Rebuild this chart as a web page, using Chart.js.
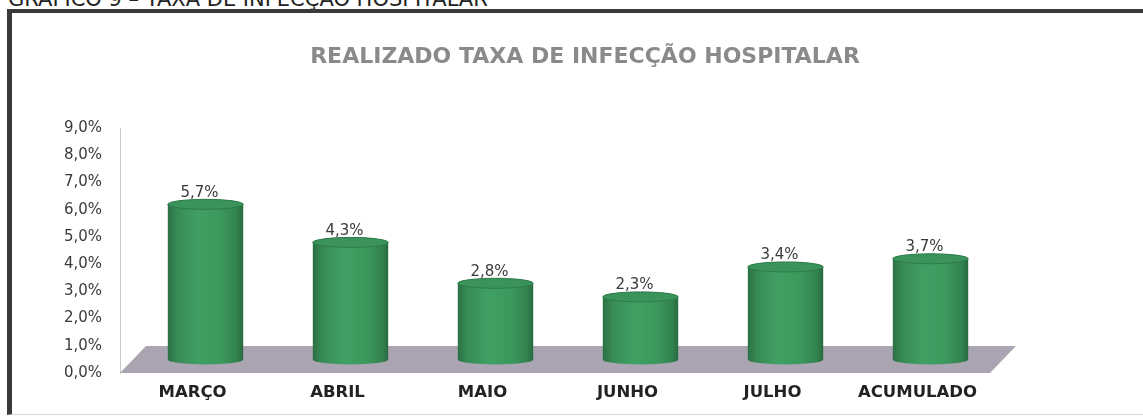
<!DOCTYPE html>
<html><head><meta charset="utf-8">
<script src="https://cdn.jsdelivr.net/npm/chart.js@4/dist/chart.umd.min.js"></script>
<style>
html,body{margin:0;padding:0;background:#fff;overflow:hidden;width:1143px;height:416px;}
#cap{position:absolute;left:8px;top:-11px;font:21px "DejaVu Sans";color:#222;white-space:nowrap;line-height:21px;}
#frame{position:absolute;left:7px;top:9px;width:1200px;height:401px;border-left:5px solid #3a3a3a;border-top:4px solid #3a3a3a;border-bottom:1px solid #d6d6d6;}
#c{position:absolute;left:0;top:0;}
</style></head>
<body>
<div id="cap">GRÁFICO 9 – TAXA DE INFECÇÃO HOSPITALAR</div>
<div id="frame"></div>
<canvas id="c" width="1143" height="416"></canvas>
<script>
const categories = ['MARÇO', 'ABRIL', 'MAIO', 'JUNHO', 'JULHO', 'ACUMULADO'];
const values = [5.7, 4.3, 2.8, 2.3, 3.4, 3.7];
const yMin = 0, yMax = 9, yStep = 1;
const chartTitle = 'REALIZADO TAXA DE INFECÇÃO HOSPITALAR';

const fmt = v => v.toFixed(1).replace('.', ',') + '%';
const DX = 26, DY = 27;

const cylinders = {
  id: 'cylinders',
  beforeDatasetsDraw(chart) {
    const {ctx, chartArea: a, scales: {y}} = chart;
    const b = y.getPixelForValue(0);
    ctx.save();
    ctx.fillStyle = '#aaa4b3';
    ctx.beginPath();
    ctx.moveTo(a.left, b);
    ctx.lineTo(a.left + DX, b - DY);
    ctx.lineTo(a.right + DX, b - DY);
    ctx.lineTo(a.right, b);
    ctx.closePath();
    ctx.fill();
    ctx.restore();
  },
  afterDatasetsDraw(chart) {
    const {ctx} = chart;
    const meta = chart.getDatasetMeta(0);
    meta.data.forEach((el, i) => {
      const {x, y, base, width} = el.getProps(['x', 'y', 'base', 'width'], true);
      const cx = x + DX / 2, top = y - DY / 2, bot = base - DY / 2, rx = width / 2, ry = 5;
      ctx.save();
      const g = ctx.createLinearGradient(cx - rx, 0, cx + rx, 0);
      g.addColorStop(0, '#2b7043');
      g.addColorStop(0.12, '#378a56');
      g.addColorStop(0.4, '#40a064');
      g.addColorStop(0.7, '#3c995e');
      g.addColorStop(0.92, '#32824f');
      g.addColorStop(1, '#286a3f');
      ctx.fillStyle = g;
      ctx.beginPath();
      ctx.moveTo(cx - rx, top);
      ctx.lineTo(cx - rx, bot);
      ctx.ellipse(cx, bot, rx, ry, 0, Math.PI, 0, true);
      ctx.lineTo(cx + rx, top);
      ctx.ellipse(cx, top, rx, ry, 0, 0, -Math.PI, true);
      ctx.closePath();
      ctx.fill();
      ctx.beginPath();
      ctx.ellipse(cx, top, rx, ry, 0, 0, Math.PI * 2);
      ctx.fillStyle = '#3b935c';
      ctx.fill();
      ctx.strokeStyle = '#2f7a4a';
      ctx.lineWidth = 1;
      ctx.stroke();
      ctx.fillStyle = '#3a3a3a';
      ctx.font = '15px "DejaVu Sans"';
      ctx.textAlign = 'center';
      ctx.textBaseline = 'bottom';
      ctx.fillText(fmt(values[i]), cx - 6, top - ry + 1);
      ctx.restore();
    });
  }
};

new Chart(document.getElementById('c'), {
  type: 'bar',
  data: {
    labels: categories,
    datasets: [{
      data: values,
      backgroundColor: 'rgba(0,0,0,0)',
      borderWidth: 0,
      categoryPercentage: 1,
      barPercentage: 0.52
    }]
  },
  options: {
    responsive: false,
    animation: false,
    layout: {padding: {left: 27, right: 0, top: 0, bottom: 0}},
    plugins: {
      legend: {display: false},
      tooltip: {enabled: false},
      title: {
        display: true,
        text: chartTitle,
        color: '#8a8a8a',
        font: {family: 'DejaVu Sans', size: 22, weight: 'bold'},
        padding: {top: 44, bottom: 57.6}
      }
    },
    scales: {
      x: {
        grid: {display: false, drawTicks: false, tickLength: 0},
        border: {display: false},
        ticks: {
          color: '#222',
          padding: 10,
          font: {family: 'DejaVu Sans', size: 16.5, weight: 'bold'}
        },
        afterFit(s) { s.height = 43; }
      },
      y: {
        min: yMin, max: yMax,
        grid: {display: false, drawTicks: false, tickLength: 0},
        border: {display: true, color: '#c8c8c8', dash: [2, 2], width: 1},
        ticks: {
          stepSize: yStep,
          color: '#3a3a3a',
          padding: 18,
          font: {family: 'DejaVu Sans', size: 15},
          callback: v => fmt(v)
        },
        afterFit(s) { s.width = 93; }
      },
      y2: {
        position: 'right',
        grid: {display: false},
        border: {display: false},
        ticks: {display: false},
        afterFit(s) { s.width = 153; }
      }
    }
  },
  plugins: [cylinders]
});
</script>
</body></html>
